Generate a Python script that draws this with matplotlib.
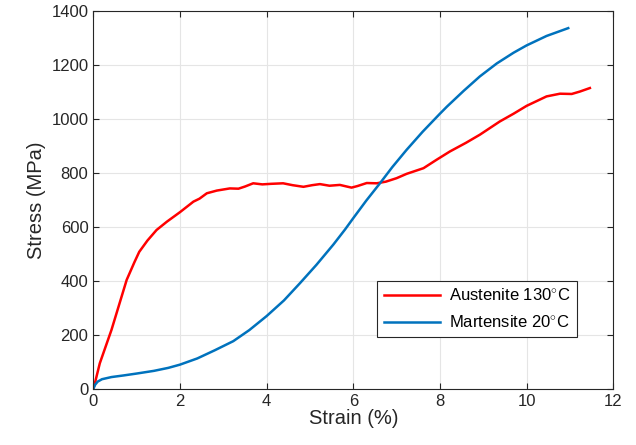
import matplotlib.pyplot as plt
import numpy as np

plt.rcParams['font.family'] = ['Liberation Sans', 'DejaVu Sans']
plt.rcParams['mathtext.fontset'] = 'custom'
plt.rcParams['mathtext.rm'] = 'Liberation Sans'

# Austenite 130 C
aus_strain = [0, 0.05, 0.15, 0.42, 0.77, 0.95, 1.06, 1.25, 1.46, 1.7, 2.0, 2.31, 2.45, 2.62,
              2.85, 3.15, 3.35, 3.5, 3.69, 3.9, 4.1, 4.38, 4.6, 4.85, 5.05, 5.23, 5.45, 5.69,
              5.85, 5.96, 6.1, 6.31, 6.54, 6.75, 7.0, 7.23, 7.62, 7.92, 8.23, 8.6, 8.92,
              9.38, 9.7, 10.0, 10.46, 10.77, 11.04, 11.23, 11.46]
aus_stress = [0, 30, 95, 219, 404, 470, 508, 550, 589, 620, 655, 694, 705, 725,
              735, 743, 742, 750, 762, 758, 760, 762, 755, 749, 755, 759, 753, 756,
              750, 746, 752, 763, 762, 768, 781, 797, 818, 849, 880, 912, 942,
              991, 1020, 1049, 1084, 1094, 1093, 1102, 1115]

# Martensite 20 C
mar_strain = [0, 0.04, 0.1, 0.2, 0.42, 0.7, 1.0, 1.4, 1.73, 2.0, 2.4, 2.8, 3.23, 3.6, 4.0,
              4.4, 4.77, 5.15, 5.54, 5.81, 6.0, 6.3, 6.62, 6.9, 7.23, 7.6, 8.0, 8.16, 8.55,
              8.92, 9.31, 9.7, 10.0, 10.46, 10.96]
mar_stress = [0, 15, 27, 36, 44, 50, 57, 67, 78, 90, 113, 143, 177, 218, 270,
              328, 392, 460, 535, 591, 633, 698, 763, 822, 886, 953, 1020, 1046, 1105,
              1158, 1206, 1246, 1273, 1308, 1337]

fig = plt.figure(figsize=(6.36, 4.45), dpi=100)
ax = fig.add_axes([0.1467, 0.126, 0.8176, 0.849])

ax.plot(aus_strain, aus_stress, color='#FF0000', linewidth=1.8, label='Austenite 130$^{\\circ}$C')
ax.plot(mar_strain, mar_stress, color='#0072BD', linewidth=1.8, label='Martensite 20$^{\\circ}$C')

ax.set_xlim(0, 12)
ax.set_ylim(0, 1400)
ax.set_xticks(np.arange(0, 13, 2))
ax.set_yticks(np.arange(0, 1401, 200))
ax.grid(True, color='#E5E5E5', linewidth=0.8)
ax.set_axisbelow(True)
ax.tick_params(direction='in', top=True, right=True, labelsize=12, colors='#262626', length=4.5)
for s in ax.spines.values():
    s.set_color('#262626')
    s.set_linewidth(0.8)

ax.set_xlabel('Strain (%)', fontsize=14.5, color='#262626', labelpad=0)
ax.set_ylabel('Stress (MPa)', fontsize=14.5, color='#262626', labelpad=4)

leg = ax.legend(loc='upper right', bbox_to_anchor=(0.930, 0.286), fontsize=12,
                fancybox=False, framealpha=1, edgecolor='#262626', handlelength=3.4,
                handletextpad=0.5, borderpad=0.4, labelspacing=0.6, borderaxespad=0)
leg.get_frame().set_linewidth(0.8)

plt.savefig('out.png', dpi=100)
